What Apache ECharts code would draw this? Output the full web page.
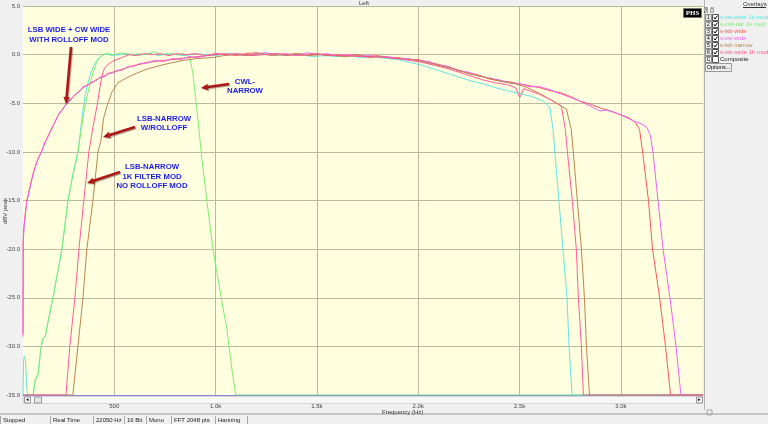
<!DOCTYPE html>
<html><head><meta charset="utf-8">
<script src="https://cdn.jsdelivr.net/npm/echarts@6/dist/echarts.min.js"></script>
<style>html,body{margin:0;padding:0;background:#f0f0f0;overflow:hidden}#c{width:768px;height:424px}</style>
</head><body><div id="c"></div><script>
// ---- data (Hz, dBV peak) ----
const seriesNames = ['s-cw-wide 1k mod','s-cwl-nar 1k mod','s-lsb wide','s-cw wide','s-lsb narrow','s-lsb-wide 1k mod'];
const xTicks = [500,1000,1500,2000,2500,3000];
const xTickLabels = ['500','1.0k','1.5k','2.0k','2.5k','3.0k'];
const yTicks = [5,0,-5,-10,-15,-20,-25,-30,-35];

const cwWide1k = [[50,-35],[53,-31.5],[56,-31],[62,-31.3],[68,-34],[72,-35],[100,-35],[110,-33.5],[125,-32.8],[138,-30.2],[148,-29.2],[160,-29],[175,-27.3],[198,-25],[220,-22.5],[242,-20],[257,-17.5],[272,-15],[290,-13],[305,-11.5],[321,-10],[333,-8],[345,-5.8],[358,-4],[372,-2.8],[386,-1.8],[400,-1.1],[414,-0.6],[428,-0.3],[440,-0.1],[460,0.1],[490,-0.1],[520,0],[560,0.1],[600,-0.1],[640,0],[680,0.1],[720,-0.1],[760,0.1],[800,0],[850,-0.1],[900,0.1],[950,0],[1000,-0.1],[1060,0.1],[1120,0],[1180,-0.1],[1240,0.1],[1300,0],[1360,-0.1],[1420,0],[1480,-0.2],[1540,-0.1],[1600,-0.2],[1660,-0.1],[1720,-0.3],[1780,-0.2],[1840,-0.4],[1900,-0.5],[1960,-0.8],[2020,-1.1],[2080,-1.5],[2140,-1.9],[2200,-2.3],[2260,-2.7],[2320,-3.0],[2380,-3.4],[2440,-3.7],[2500,-4.0],[2560,-4.3],[2620,-4.8],[2650,-5.5],[2665,-7.7],[2674,-10],[2694,-15],[2714,-20],[2734,-25],[2744,-30],[2759,-35],[3405,-35]];

const cwlNar1k = [[100,-35],[110,-33.5],[125,-32.8],[138,-30.2],[148,-29.2],[160,-29],[175,-27.3],[198,-25],[220,-22.5],[242,-20],[257,-17.5],[272,-15],[290,-13],[305,-11.5],[321,-10],[338,-7.6],[355,-5.3],[375,-3.5],[395,-1.9],[412,-0.9],[428,-0.3],[444,0],[470,0.1],[500,0],[530,0.2],[560,0.1],[590,0],[620,0.1],[650,0],[680,0.2],[700,0.3],[720,0.1],[750,0],[780,0.1],[810,0],[840,0.1],[862,-0.1],[873,-0.3],[888,-1.9],[910,-6],[933,-10.8],[957,-15],[987,-20],[1008,-22.5],[1028,-25],[1045,-27],[1055,-28],[1066,-30],[1085,-33],[1100,-35],[3405,-35]];

const lsbWide = [[50,-28.7],[51,-19],[55,-17.6],[62,-16.2],[69,-15],[80,-14],[90,-13.1],[100,-12.3],[112,-11.4],[125,-10.7],[140,-10],[158,-9.1],[175,-8.3],[195,-7.5],[212,-6.7],[228,-6.1],[245,-5.6],[267,-5.0],[285,-4.6],[305,-4.2],[325,-3.8],[346,-3.4],[368,-3.1],[390,-2.9],[410,-2.6],[430,-2.4],[450,-2.2],[470,-2.0],[492,-1.8],[514,-1.7],[540,-1.5],[570,-1.3],[600,-1.1],[627,-1.0],[660,-0.8],[700,-0.7],[745,-0.6],[790,-0.5],[830,-0.4],[870,-0.3],[910,-0.2],[957,-0.1],[1000,0],[1050,0.1],[1100,-0.1],[1150,0.1],[1200,0.2],[1250,0],[1300,0.1],[1350,-0.1],[1400,0.1],[1450,0],[1500,0.1],[1550,-0.1],[1600,0],[1650,-0.1],[1700,0],[1750,-0.2],[1800,-0.1],[1850,-0.3],[1900,-0.3],[1950,-0.5],[2000,-0.5],[2050,-0.8],[2100,-1.0],[2150,-1.3],[2200,-1.6],[2250,-1.9],[2300,-2.1],[2350,-2.5],[2400,-2.7],[2450,-2.8],[2500,-3.0],[2550,-3.2],[2600,-3.4],[2650,-3.7],[2700,-3.9],[2750,-4.3],[2800,-4.8],[2850,-5.1],[2900,-5.5],[2950,-5.8],[3000,-6.2],[3040,-6.5],[3072,-7.0],[3092,-7.7],[3107,-10],[3136,-15],[3156,-20],[3191,-25],[3220,-30],[3245,-35],[3405,-35]];

const cwWide = [[50,-29],[51,-19.5],[55,-17.8],[62,-16.4],[69,-15.1],[80,-14.1],[90,-13.2],[100,-12.2],[112,-11.5],[125,-10.6],[140,-10.1],[158,-9.0],[175,-8.4],[195,-7.4],[212,-6.8],[228,-6.0],[245,-5.7],[267,-4.9],[285,-4.7],[305,-4.1],[325,-3.9],[346,-3.3],[368,-3.2],[390,-2.8],[410,-2.7],[430,-2.3],[450,-2.3],[470,-1.9],[492,-1.9],[514,-1.6],[540,-1.6],[570,-1.2],[600,-1.2],[627,-0.9],[660,-0.9],[700,-0.6],[745,-0.7],[790,-0.4],[830,-0.5],[870,-0.2],[910,-0.3],[957,-0.1],[1000,0.1],[1050,0],[1100,0.1],[1150,-0.1],[1200,0.1],[1250,0.2],[1300,0],[1350,0.1],[1400,-0.1],[1450,0.2],[1500,0],[1550,0.1],[1600,-0.1],[1650,0],[1700,-0.2],[1750,-0.1],[1800,-0.2],[1850,-0.2],[1900,-0.4],[1950,-0.4],[2000,-0.6],[2050,-0.7],[2100,-1.1],[2150,-1.2],[2200,-1.7],[2250,-1.8],[2300,-2.2],[2350,-2.4],[2400,-2.6],[2450,-2.9],[2500,-3.0],[2550,-3.3],[2600,-3.3],[2650,-3.6],[2684,-3.9],[2700,-4.0],[2750,-4.4],[2800,-4.8],[2850,-5.3],[2896,-5.8],[2930,-5.7],[2960,-5.9],[3000,-6.2],[3060,-6.8],[3100,-7.1],[3129,-7.5],[3145,-8.3],[3158,-10],[3183,-15],[3208,-20],[3242,-25],[3272,-30],[3296,-35],[3405,-35]];

const lsbNarrow = [[50,-35],[296,-35],[321,-30],[346,-25],[365,-20],[395,-15],[420,-10],[435,-8.8],[447,-6.6],[464,-5.3],[490,-3.8],[518,-2.9],[560,-2.4],[612,-1.9],[660,-1.5],[711,-1.2],[770,-0.9],[839,-0.6],[910,-0.4],[987,-0.3],[1040,-0.1],[1100,0],[1160,-0.1],[1220,0.1],[1280,-0.1],[1340,0],[1400,0.1],[1460,-0.1],[1520,0],[1580,-0.1],[1640,-0.2],[1700,-0.1],[1760,-0.3],[1820,-0.2],[1880,-0.4],[1940,-0.5],[2000,-0.6],[2060,-0.9],[2120,-1.2],[2180,-1.5],[2240,-1.9],[2300,-2.2],[2360,-2.5],[2420,-2.8],[2480,-3.0],[2540,-3.4],[2600,-4.0],[2650,-4.6],[2700,-5.2],[2731,-5.6],[2755,-7.7],[2765,-10],[2785,-15],[2805,-20],[2820,-25],[2830,-30],[2845,-35],[3405,-35]];

const lsbWide1k = [[50,-35],[262,-35],[281,-30],[306,-25],[326,-20],[350,-15],[375,-10],[395,-7.5],[415,-5.3],[430,-3.3],[440,-2.2],[452,-1.4],[470,-1.0],[490,-0.7],[514,-0.5],[550,-0.2],[578,0],[610,-0.1],[650,0.1],[690,0],[730,0.1],[770,-0.1],[810,0.1],[850,0],[900,0.1],[950,-0.1],[1000,0.1],[1060,0],[1120,0.1],[1180,-0.1],[1240,0],[1300,0.1],[1360,0],[1420,-0.1],[1480,0.1],[1540,0],[1600,-0.1],[1660,-0.1],[1720,-0.2],[1780,-0.2],[1840,-0.3],[1900,-0.4],[1960,-0.6],[2020,-0.8],[2080,-1.1],[2140,-1.4],[2200,-1.8],[2260,-2.2],[2320,-2.6],[2380,-2.9],[2440,-3.1],[2480,-3.4],[2502,-4.4],[2520,-3.5],[2560,-3.8],[2600,-4.1],[2650,-4.6],[2706,-5.3],[2726,-7.7],[2736,-10],[2760,-15],[2780,-20],[2790,-25],[2805,-30],[2815,-35],[3405,-35]];

const seriesData = [cwWide1k, cwlNar1k, lsbWide, cwWide, lsbNarrow, lsbWide1k];
const statusItems = ['Stopped','Real Time','22050 Hz','16 Bit','Mono','FFT 2048 pts','Hanning'];

// ---- styling ----
const colors = ['#62e4e0','#7eee70','#f45a5a','#f062ee','#b8864e','#ff5c98'];
const UI = '"Liberation Sans", Arial, sans-serif';
const g = [];
function txt(x,y,t,o){ o=o||{}; g.push({type:'text',x:x,y:y,z:o.z||50,rotation:o.rot||0,style:{text:t,fill:o.fill||'#333',font:(o.weight||'normal')+' '+(o.size||6)+'px '+(o.family||UI),align:o.align||'left',verticalAlign:o.va||'middle',lineHeight:o.lh}}); }
function rect(x,y,w,h,fill,stroke,z){ g.push({type:'rect',z:z||40,shape:{x:x,y:y,width:w,height:h},style:{fill:fill,stroke:stroke||null,lineWidth:1}}); }
function line(x1,y1,x2,y2,stroke,w,z){ g.push({type:'line',z:z||40,shape:{x1:x1,y1:y1,x2:x2,y2:y2},style:{stroke:stroke,lineWidth:w||1}}); }
function arrow(x1,y1,x2,y2){
  const dx=x2-x1, dy=y2-y1, L=Math.sqrt(dx*dx+dy*dy), ux=dx/L, uy=dy/L, hl=7, hw=3.2;
  const bx=x2-ux*hl, by=y2-uy*hl;
  g.push({type:'line',z:60,shape:{x1:x1,y1:y1,x2:bx,y2:by},style:{stroke:'#b01616',lineWidth:2.6,shadowColor:'rgba(0,0,0,0.35)',shadowOffsetX:1,shadowOffsetY:1,shadowBlur:1}});
  g.push({type:'polygon',z:60,shape:{points:[[x2,y2],[bx-uy*hw,by+ux*hw],[bx+uy*hw,by-ux*hw]]},style:{fill:'#b01616',shadowColor:'rgba(0,0,0,0.35)',shadowOffsetX:1,shadowOffsetY:1,shadowBlur:1}});
}

// title + axis name
txt(364,3,'Left',{size:6,align:'center'});
txt(5,211,'dBV peak',{size:6,align:'center',rot:Math.PI/2});
txt(382,412,'Frequency (Hz)',{size:6});
// scrollbar
rect(23.5,396.5,679,7,'#f7f7f7','#d6d6d6');
rect(24.5,397,6,6,'#f0f0f0','#9a9a9a'); txt(27.5,400,'◂',{size:5,align:'center',fill:'#000'});
rect(34.5,397,7,6,'#e6e6e6','#9a9a9a');
rect(696.5,397,6,6,'#f0f0f0','#9a9a9a'); txt(699.5,400,'▸',{size:5,align:'center',fill:'#000'});
// status bar
rect(0,413,768,2,'#c4c4c4');
const sepX=[0,50,93,124,146,171,215,247];
sepX.forEach(function(x){ line(x+0.5,416,x+0.5,424,'#a8a8a8'); });
statusItems.forEach(function(s,i){ txt(sepX[i]+3,420,s,{size:6,fill:'#222'}); });
rect(707,410,5,5,null,'#aaa');
// right panel
line(704.5,0,704.5,410,'#b4b4b4');
txt(743,4,'Overlays',{size:6,fill:'#333'}); line(743,7.5,766,7.5,'#333');
txt(707,10,'Sel',{size:4.5,align:'center',rot:Math.PI/2}); txt(713,10,'Clr',{size:4.5,align:'center',rot:Math.PI/2});
rect(683.5,8.5,18,9,'#000','#777',55); txt(692.5,13,'PHS',{size:7,weight:'bold',family:'"Liberation Serif", serif',fill:'#fff',align:'center',z:56});
seriesNames.concat(['Composite']).forEach(function(name,i){
  const c=17+i*7;
  rect(705.5,c-2.5,6,6,'#ececec','#8a8a8a');
  txt(708.5,c+0.5,i<6?String(i+1):'C',{size:5,align:'center',fill:'#000'});
  rect(712.5,c-2.5,6,6,'#fff','#555');
  if(i<6) g.push({type:'polyline',z:45,shape:{points:[[713.8,c+0.3],[715,c+2],[717.4,c-1.4]]},style:{stroke:'#000',lineWidth:1,fill:null}});
  txt(720,c+0.5,name,{size:6,fill:i<6?colors[i]:'#222'});
});
rect(705.5,63.5,26,8,'#ececec','#999'); txt(718.5,67.5,'Options...',{size:5.5,align:'center',fill:'#000'});
// annotations
const AF='"Liberation Sans", Arial, sans-serif';
function ann(x,y,t){ g.push({type:'text',x:x,y:y,z:70,style:{text:t,fill:'#1c1ce6',font:'bold 7.8px '+AF,align:'center',verticalAlign:'middle',lineHeight:9.5}}); }
ann(69,35,'LSB WIDE + CW WIDE\nWITH ROLLOFF MOD');
ann(245,86.5,'CWL-\nNARROW');
ann(164,123.5,'LSB-NARROW\nW/ROLLOFF');
ann(152,176.5,'LSB-NARROW\n1K FILTER MOD\nNO ROLLOFF MOD');
arrow(71,47,66,104);
arrow(229,84,201,88);
arrow(135,127,103,137);
arrow(120,172,87,183);

const chart = echarts.init(document.getElementById('c'), null, {renderer:'canvas'});
chart.setOption({
  animation:false,
  backgroundColor:'#f0f0f0',
  grid:{left:23,right:65,top:6,bottom:29,show:true,backgroundColor:'#ffffe0',borderWidth:0},
  xAxis:{type:'value',min:50,max:3405,
    axisLine:{show:true,onZero:false,lineStyle:{color:'#8585e6',width:1}},
    axisTick:{show:false,customValues:xTicks},
    axisLabel:{customValues:xTicks,margin:8,fontSize:6,color:'#444',fontFamily:UI,formatter:function(v){const k=xTicks.indexOf(v);return k>=0?xTickLabels[k]:'';}},
    splitLine:{show:true,lineStyle:{color:'#bcb8a2',width:1}}},
  yAxis:{type:'value',min:-35,max:5,interval:5,
    axisLine:{show:false},axisTick:{show:false},
    axisLabel:{margin:3,fontSize:6,color:'#444',fontFamily:UI,formatter:function(v){return v.toFixed(1);}},
    splitLine:{show:true,lineStyle:{color:'#bcb8a2',width:1}}},
  series: seriesData.map(function(d,i){return {name:seriesNames[i],type:'line',data:d,showSymbol:false,symbol:'none',clip:true,lineStyle:{color:colors[i],width:1},itemStyle:{color:colors[i]},z:2+i};}),
  graphic:g
});
</script></body></html>
